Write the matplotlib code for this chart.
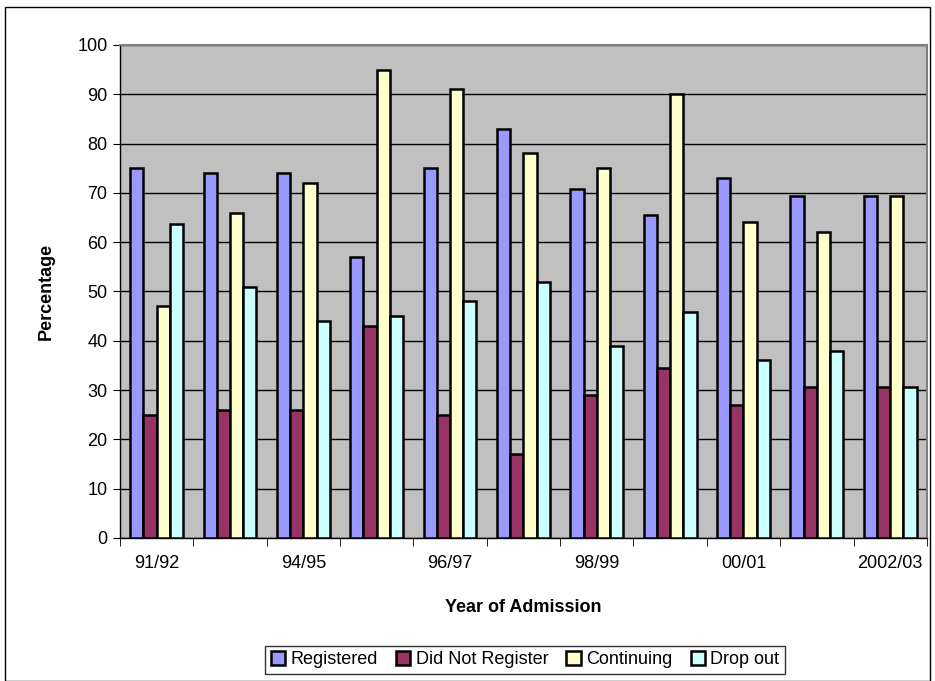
import numpy as np
import matplotlib.pyplot as plt
from matplotlib.patches import Rectangle

plt.rcParams['font.family'] = ['Liberation Sans', 'DejaVu Sans']

years = ["91/92", "93/94", "94/95", "95/96", "96/97", "97/98",
         "98/99", "99/00", "00/01", "01/02", "2002/03"]
shown = ["91/92", "", "94/95", "", "96/97", "", "98/99", "", "00/01", "", "2002/03"]

registered = [75, 74, 74, 57, 75, 83, 70.7, 65.5, 73, 69.3, 69.3]
not_registered = [25, 26, 26, 43, 25, 17, 29, 34.5, 27, 30.7, 30.7]
continuing = [47, 66, 72, 95, 91, 78, 75, 90, 64, 62, 69.3]
drop_out = [63.6, 51, 44, 45, 48, 52, 39, 45.8, 36, 38, 30.7]

series = [("Registered", registered, "#9999FF"),
          ("Did Not Register", not_registered, "#993366"),
          ("Continuing", continuing, "#FFFFCC"),
          ("Drop out", drop_out, "#CCFFFF")]

fig = plt.figure(figsize=(9.35, 6.81), dpi=100)
ax = fig.add_axes([0.1283, 0.21, 0.863, 0.724])
ax.set_facecolor("#C0C0C0")

x = np.arange(len(years))
w = 0.18
for i, (name, vals, col) in enumerate(series):
    ax.bar(x + (i - 1.5) * w, vals, w, color=col, edgecolor="black",
           linewidth=1.8, label=name, zorder=3)

ax.set_ylim(0, 100)
ax.set_yticks(np.arange(0, 101, 10))
ax.yaxis.grid(True, color="black", linewidth=1, zorder=1)
ax.set_xlim(-0.5, len(years) - 0.5)
ax.set_xticks(x)
ax.set_xticklabels(shown)
ax.set_xticks(np.arange(-0.5, len(years)), minor=True)
ax.tick_params(axis="x", which="major", length=0, pad=12, labelsize=13)
ax.tick_params(axis="x", which="minor", length=6, color="black")
ax.tick_params(axis="y", length=5, labelsize=13, pad=4)

for s in ["top", "right"]:
    ax.spines[s].set_color("#808080")
    ax.spines[s].set_linewidth(1.5)
for s in ["left", "bottom"]:
    ax.spines[s].set_color("black")
    ax.spines[s].set_linewidth(1)

ax.set_ylabel("Percentage", fontsize=13, fontweight="bold", labelpad=16)
ax.set_xlabel("Year of Admission", fontsize=13, fontweight="bold", labelpad=20)

leg = fig.legend(loc="center", bbox_to_anchor=(0.5615, 0.031), ncol=4, fontsize=13,
                 frameon=True, fancybox=False, edgecolor="black",
                 handlelength=0.8, handleheight=0.8, handletextpad=0.3,
                 columnspacing=1.0, borderpad=0.3)
leg.get_frame().set_linewidth(1)

fig.patches.append(Rectangle((0.005, 0.0), 0.99, 0.99, transform=fig.transFigure,
                             fill=False, edgecolor="black", linewidth=1))

fig.savefig("out.png", dpi=100)
